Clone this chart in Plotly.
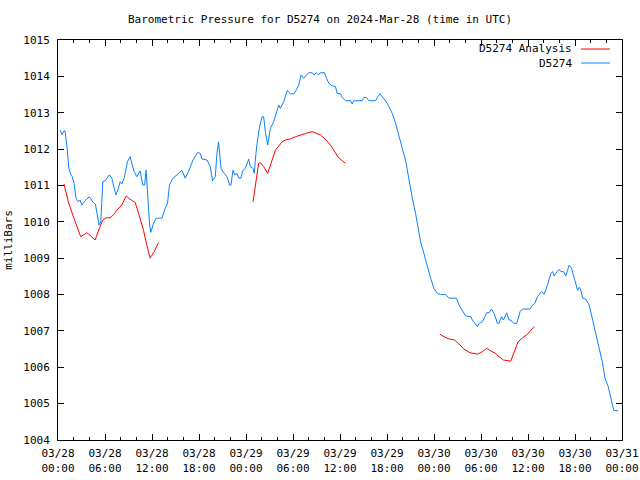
import plotly.graph_objects as go

# ---- data (hours since 2024-03-28 00:00 UTC, pressure in mb) ----
obs_hours = [0.26, 0.51, 0.77, 0.90, 1.19, 1.37, 1.62, 1.79, 2.05, 2.30, 2.56, 2.81, 3.03, 3.45, 4.00,
             4.51, 4.77, 5.03, 5.24, 5.46, 5.72, 6.01, 6.56, 6.87, 7.38, 7.71, 7.93, 8.15, 8.44, 8.86,
             9.21, 9.42, 9.72, 10.06, 10.49, 10.83, 11.06, 11.25, 11.42, 11.68, 11.85, 12.19, 12.53,
             13.26, 13.68, 13.98, 14.23, 14.67, 15.18, 15.82, 16.24, 16.66, 17.23, 17.81, 18.16, 18.38,
             19.02, 19.44, 19.73, 20.08, 20.29, 20.50, 20.81, 21.14, 21.57, 21.91, 22.08, 22.34, 22.55,
             22.85, 23.11, 23.34, 23.62, 23.91, 24.34, 24.55, 24.90, 25.06, 25.19, 25.41, 25.74, 26.05,
             26.25, 26.47, 26.77, 27.11, 27.53, 27.88, 28.17, 28.39, 28.81, 29.25, 29.67, 30.09, 30.44,
             30.73, 31.04, 31.37, 31.71, 32.01, 32.44, 32.65, 32.99, 33.29, 33.50, 34.02, 34.27, 34.57,
             35.00, 35.42, 35.64, 36.06, 36.28, 36.70, 37.34, 37.56, 37.76, 38.84, 39.04, 39.39, 39.68,
             40.54, 40.83, 41.09, 41.39, 41.82, 42.24, 42.67, 43.10, 43.52, 43.95, 44.37, 44.80, 45.23,
             45.65, 46.07, 46.29, 46.71, 47.15, 47.57, 47.99, 48.43, 48.85, 49.49, 49.91, 50.90, 51.19,
             51.62, 52.05, 52.69, 52.90, 53.24, 53.54, 53.77, 54.18, 54.73, 55.03, 55.33, 55.67, 56.10,
             56.30, 56.61, 56.87, 57.29, 57.58, 57.80, 58.15, 58.57, 58.99, 59.30, 60.27, 60.45, 60.87,
             61.21, 61.42, 61.73, 62.06, 62.49, 62.92, 63.13, 63.34, 63.68, 63.98, 64.19, 64.54, 64.83,
             65.05, 65.26, 65.56, 65.82, 66.11, 66.33, 66.54, 66.75, 66.97, 67.39, 67.81, 68.25, 68.67,
             69.09, 69.53, 69.82, 70.24, 70.59, 70.93, 71.52]
obs_mb = [1012.52, 1012.40, 1012.50, 1012.50, 1011.97, 1011.50, 1011.30, 1011.25, 1011.06, 1010.65, 1010.55,
          1010.60, 1010.46, 1010.58, 1010.69, 1010.53, 1010.49, 1010.19, 1009.91, 1010.00, 1011.10, 1011.13,
          1011.29, 1011.20, 1010.74, 1010.92, 1011.10, 1011.04, 1011.20, 1011.65, 1011.79, 1011.61, 1011.38,
          1011.24, 1011.40, 1011.01, 1011.01, 1011.42, 1010.74, 1009.96, 1009.71, 1009.96, 1010.10, 1010.10,
          1010.37, 1010.51, 1011.01, 1011.20, 1011.29, 1011.42, 1011.20, 1011.38, 1011.70, 1011.91, 1011.88,
          1011.73, 1011.70, 1011.52, 1011.13, 1011.24, 1011.88, 1012.20, 1011.47, 1011.35, 1011.24, 1011.01,
          1011.01, 1011.42, 1011.29, 1011.33, 1011.20, 1011.20, 1011.42, 1011.47, 1011.72, 1011.52, 1011.47,
          1011.33, 1011.70, 1012.16, 1012.62, 1012.89, 1012.89, 1012.48, 1012.11, 1012.57, 1012.75, 1012.98,
          1013.21, 1013.12, 1013.30, 1013.61, 1013.52, 1013.52, 1013.63, 1013.76, 1014.04, 1013.95, 1014.04,
          1014.10, 1014.10, 1014.04, 1014.10, 1014.04, 1014.10, 1014.10, 1013.95, 1013.81, 1013.74, 1013.72,
          1013.53, 1013.52, 1013.42, 1013.33, 1013.33, 1013.24, 1013.33, 1013.33, 1013.42, 1013.42, 1013.33,
          1013.33, 1013.44, 1013.52, 1013.44, 1013.33, 1013.17, 1012.98, 1012.71, 1012.34, 1012.02, 1011.70,
          1011.15, 1010.65, 1010.23, 1009.77, 1009.45, 1009.13, 1008.76, 1008.45, 1008.17, 1008.03, 1008.00,
          1008.00, 1007.90, 1007.90, 1007.71, 1007.57, 1007.41, 1007.39, 1007.30, 1007.21, 1007.12, 1007.21,
          1007.25, 1007.50, 1007.50, 1007.60, 1007.48, 1007.21, 1007.21, 1007.39, 1007.30, 1007.50, 1007.30,
          1007.30, 1007.21, 1007.21, 1007.53, 1007.60, 1007.60, 1007.68, 1007.76, 1007.94, 1008.00, 1008.08,
          1008.01, 1008.26, 1008.58, 1008.63, 1008.51, 1008.63, 1008.69, 1008.63, 1008.63, 1008.51, 1008.67,
          1008.81, 1008.72, 1008.49, 1008.26, 1008.12, 1008.20, 1008.12, 1007.90, 1007.87, 1007.71, 1007.30,
          1006.98, 1006.52, 1006.11, 1005.70, 1005.47, 1005.14, 1004.82, 1004.80]

ana1_hours = [0.77, 1.32, 1.96, 2.47, 2.90, 3.24, 3.67, 4.18, 4.73, 5.28, 5.72, 6.14, 6.65, 7.07, 7.51,
              8.15, 8.70, 9.21, 9.85, 10.27, 10.91, 11.34, 11.76, 12.28, 12.83]
ana1_mb = [1011.04, 1010.55, 1010.14, 1009.82, 1009.59, 1009.64, 1009.70, 1009.61, 1009.50, 1009.82, 1010.05,
           1010.11, 1010.11, 1010.19, 1010.32, 1010.46, 1010.71, 1010.62, 1010.53, 1010.25, 1009.77, 1009.36,
           1009.00, 1009.18, 1009.43]
ana2_hours = [24.90, 25.19, 25.61, 25.83, 26.25, 26.77, 27.33, 27.75, 28.17, 28.61, 29.03, 29.67, 30.31,
              30.95, 31.59, 32.44, 32.86, 33.50, 34.14, 34.78, 35.21, 35.72, 36.28, 36.70]
ana2_mb = [1010.55, 1011.01, 1011.61, 1011.63, 1011.52, 1011.33, 1011.70, 1011.97, 1012.08, 1012.20, 1012.25,
           1012.28, 1012.34, 1012.39, 1012.43, 1012.48, 1012.45, 1012.39, 1012.27, 1012.11, 1011.97, 1011.79,
           1011.68, 1011.61]
ana3_hours = [48.76, 49.27, 49.91, 50.64, 51.19, 51.83, 52.60, 53.54, 54.18, 54.73, 55.24, 55.88, 56.30,
              56.87, 57.80, 58.22, 58.73, 59.30, 59.94, 60.79]
ana3_mb = [1006.91, 1006.84, 1006.78, 1006.75, 1006.64, 1006.50, 1006.40, 1006.36, 1006.43, 1006.52, 1006.45,
           1006.38, 1006.29, 1006.20, 1006.17, 1006.43, 1006.70, 1006.81, 1006.91, 1007.12]

tick_hours = [0, 6, 12, 18, 24, 30, 36, 42, 48, 54, 60, 66, 72]
tick_labels = ["03/28<br>00:00", "03/28<br>06:00", "03/28<br>12:00", "03/28<br>18:00",
               "03/29<br>00:00", "03/29<br>06:00", "03/29<br>12:00", "03/29<br>18:00",
               "03/30<br>00:00", "03/30<br>06:00", "03/30<br>12:00", "03/30<br>18:00",
               "03/31<br>00:00"]
y_ticks = list(range(1004, 1016))

RED = "#ff0000"
BLUE = "#0a80ff"
FONT = "DejaVu Sans Mono"

ana_x = ana1_hours + [None] + ana2_hours + [None] + ana3_hours
ana_y = ana1_mb + [None] + ana2_mb + [None] + ana3_mb

fig = go.Figure()
fig.add_trace(go.Scatter(x=obs_hours, y=obs_mb, mode="lines", name="D5274",
                         line=dict(color=BLUE, width=1), showlegend=False))
fig.add_trace(go.Scatter(x=ana_x, y=ana_y, mode="lines", name="D5274 Analysis",
                         line=dict(color=RED, width=1), connectgaps=False, showlegend=False))

L, R, T, B = 58, 18, 40, 40
PW, PH = 640 - L - R, 480 - T - B

fig.update_layout(
    width=640, height=480,
    margin=dict(l=L, r=R, t=T, b=B, autoexpand=False),
    paper_bgcolor="white", plot_bgcolor="white",
    font=dict(family=FONT, size=11, color="black"),
    title=dict(text="Barometric Pressure for D5274 on 2024-Mar-28 (time in UTC)",
               x=0.5, xanchor="center", y=1 - 19 / 480, yanchor="middle",
               font=dict(family=FONT, size=11, color="black")),
)
fig.update_xaxes(range=[0, 72], tickvals=tick_hours, ticktext=tick_labels, automargin=False,
                 showgrid=False, zeroline=False, showline=True, linecolor="black", linewidth=1,
                 mirror="ticks", ticks="inside", ticklen=6, tickcolor="black", ticklabelstandoff=3,
                 minor=dict(dtick=2, ticks="inside", ticklen=3, tickcolor="black", showgrid=False),
                 tickfont=dict(family=FONT, size=11))
fig.update_yaxes(range=[1004, 1015], tickvals=y_ticks, showgrid=False, zeroline=False, automargin=False,
                 showline=True, linecolor="black", linewidth=1, mirror="ticks",
                 ticks="inside", ticklen=6, tickcolor="black", ticklabelstandoff=5,
                 title=dict(text="milliBars", font=dict(family=FONT, size=11), standoff=8),
                 tickfont=dict(family=FONT, size=11))

# legend drawn gnuplot-style (text then line sample)
for label, color, ypx in [("D5274 Analysis", RED, 49), ("D5274", BLUE, 63)]:
    yp = (480 - B - ypx) / PH
    fig.add_annotation(x=(574 - L) / PW, y=yp, xref="paper", yref="paper", text=label,
                       showarrow=False, xanchor="right", yanchor="middle",
                       font=dict(family=FONT, size=11, color="black"))
    fig.add_shape(type="line", xref="paper", yref="paper", x0=(581 - L) / PW, x1=(610 - L) / PW,
                  y0=yp, y1=yp, line=dict(color=color, width=1))

fig.write_html("out.html")
